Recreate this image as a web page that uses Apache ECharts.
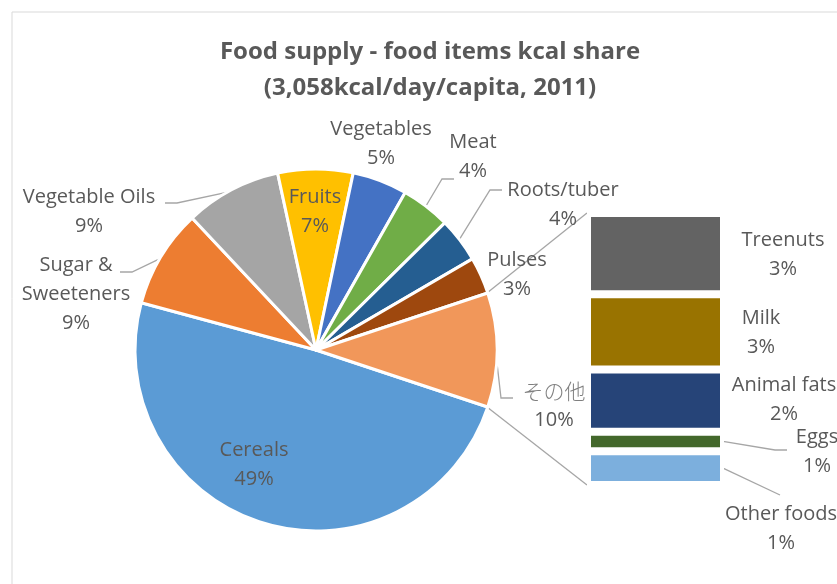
<!DOCTYPE html>
<html><head><meta charset="utf-8">
<script src="https://cdn.jsdelivr.net/npm/echarts@6/dist/echarts.min.js"></script>
<style>html,body{margin:0;padding:0;background:#fff}#c{width:837px;height:584px}</style>
</head><body><div id="c"></div>
<script>
// ---- data ----
const pieNames = ['Cereals', 'Sugar & Sweeteners', 'Vegetable Oils', 'Fruits', 'Vegetables', 'Meat', 'Roots/tuber', 'Pulses'];
const pieValues = [49.1, 8.8, 8.6, 6.7, 4.9, 4.4, 4.0, 3.3];
const otherName = 'その他';
const barNames = ['Treenuts', 'Milk', 'Animal fats', 'Eggs', 'Other foods'];
const barValues = [3.05, 2.82, 2.33, 0.73, 1.27];

// ---- styles / layout ----
const pieColors = ['#5B9BD5', '#ED7D31', '#A5A5A5', '#FFC000', '#4472C4', '#70AD47', '#255E91', '#9E480E', '#F1975A'];
const barColors = ['#636363', '#997300', '#264478', '#43682B', '#7CAFDD'];
const pieLabelPos = [[254, 465], [76, 294], [89, 212], [315, 212], [381, 144], [473, 157], [563, 205], [517, 275], [554, 406]];
// hook end offset from label centre [dx, dy, hook direction]
const pieHook = [null, [44, -22, 1], [76, -9, 1], null, null, [-19, 22, -1], [-61, -15, -1], null, [-41, -8, -1]];
const pieInside = [true, false, false, true, false, false, false, false, false];
const barLabelPos = [[783, 255], [761, 333], [784, 400], [817, 452], [781, 529]];
const barHook = [null, null, null, [-30, -2, -1], [-1, -34, 0]];
const FONT = '"Open Sans", Lato, "Noto Sans", sans-serif';
const TXT = '#595959';
const LINE = '#a6a6a6';
const LBL = 20;
const HOOK = 12;
const CX = 316, CY = 350, R = 181;
const GRID = { left: 587, top: 213, width: 137, height: 272 };

const otherValue = barValues.reduce((a, b) => a + b, 0);
const allPie = pieValues.concat([otherValue]);
const total = allPie.reduce((a, b) => a + b, 0);
const pct = v => Math.round(v / total * 100) + '%';
const halfAngle = otherValue / total * 180; // degrees

// mid-angle arc points for leader lines
const cum = [];
allPie.reduce((s, v, i) => { cum[i] = s; return s + v; }, 0);
function arcPoint(i) {
  const frac = (cum[i] + allPie[i] / 2) / total;
  const th = (-halfAngle - frac * 360) * Math.PI / 180;
  const r = R - 1.5;
  return [CX + r * Math.cos(th), CY - r * Math.sin(th)];
}

const pieData = pieNames.map((n, i) => ({ name: n, value: pieValues[i] }));
pieData.push({ name: otherName, value: otherValue });
pieData.forEach((d, i) => {
  d.itemStyle = { color: pieColors[i] };
  d.label = { position: pieInside[i] ? 'inside' : 'outside' };
  d.labelLine = { show: !!pieHook[i] };
});

// stacked bar: bottom first
const barSeries = [];
for (let i = barNames.length - 1; i >= 0; i--) {
  const idx = i;
  barSeries.push({
    type: 'bar', name: barNames[i], stack: 'other', xAxisIndex: 0, yAxisIndex: 0,
    barWidth: '100%', data: [barValues[i]],
    itemStyle: { color: barColors[i], borderColor: '#fff', borderWidth: 4 },
    label: {
      show: true, position: 'right', color: TXT, fontFamily: FONT, fontSize: LBL, lineHeight: 29, align: 'center',
      formatter: () => barNames[idx] + '\n' + pct(barValues[idx])
    },
    labelLayout: () => ({ x: barLabelPos[idx][0], y: barLabelPos[idx][1], align: 'center', verticalAlign: 'middle' }),
    emphasis: { disabled: true }, animation: false
  });
}

const rIn = R - 1.5;
const a = halfAngle * Math.PI / 180;
const pTop = [CX + rIn * Math.cos(a), CY - rIn * Math.sin(a)];
const pBot = [CX + rIn * Math.cos(a), CY + rIn * Math.sin(a)];

const chart = echarts.init(document.getElementById('c'));
chart.setOption({
  animation: false,
  backgroundColor: '#fff',
  title: {
    text: 'Food supply - food items kcal share\n(3,058kcal/day/capita, 2011)',
    left: 430, top: 34, textAlign: 'center', padding: 0,
    textStyle: { fontFamily: FONT, fontSize: 24, fontWeight: 'bold', color: TXT, lineHeight: 36 }
  },
  grid: { left: GRID.left, top: GRID.top, width: GRID.width, height: GRID.height, containLabel: false },
  xAxis: { type: 'category', data: ['x'], show: false },
  yAxis: { type: 'value', min: 0, max: otherValue, show: false },
  graphic: [
    { id: 'frame', type: 'rect', shape: { x: 12, y: 12, width: 1000, height: 800 }, style: { fill: 'none', stroke: '#d9d9d9', lineWidth: 1 }, silent: true, z: -1 },
    { id: 'cTop', type: 'line', shape: { x1: pTop[0], y1: pTop[1], x2: GRID.left, y2: GRID.top }, style: { stroke: LINE, lineWidth: 1.3 }, silent: true },
    { id: 'cBot', type: 'line', shape: { x1: pBot[0], y1: pBot[1], x2: GRID.left, y2: GRID.top + GRID.height }, style: { stroke: LINE, lineWidth: 1.3 }, silent: true }
  ],
  series: [{
    type: 'pie', center: [CX, CY], radius: R, startAngle: -halfAngle, clockwise: true,
    avoidLabelOverlap: false, minShowLabelAngle: 0,
    data: pieData,
    itemStyle: { borderColor: '#fff', borderWidth: 3 },
    label: {
      show: true, color: TXT, fontFamily: FONT, fontSize: LBL, lineHeight: 29, align: 'center',
      formatter: p => {
        let n = p.name;
        if (n === 'Sugar & Sweeteners') n = 'Sugar &\nSweeteners';
        if (p.name === otherName) return '{jp|' + n + '}\n' + pct(p.value);
        return n + '\n' + pct(p.value);
      },
      rich: { jp: { fontFamily: '"Noto Sans CJK JP"', fontSize: 21, color: '#7f7f7f', lineHeight: 29, fontWeight: 300 } }
    },
    labelLine: { length: 10, length2: 12, lineStyle: { color: LINE, width: 1.3 } },
    labelLayout: p => {
      const i = p.dataIndex;
      const pos = pieLabelPos[i];
      const o = { x: pos[0], y: pos[1], align: 'center', verticalAlign: 'middle' };
      const h = pieHook[i];
      if (h) {
        const end = [pos[0] + h[0], pos[1] + h[1]];
        o.labelLinePoints = [arcPoint(i), [end[0] + h[2] * HOOK, end[1]], end];
      }
      return o;
    },
    emphasis: { disabled: true }
  }].concat(barSeries)
});

// leader lines for the small bar segments, from the segment's right edge (via the axis scale)
const extra = [];
let base = 0;
for (let i = barNames.length - 1; i >= 0; i--) {
  const mid = base + barValues[i] / 2;
  base += barValues[i];
  const h = barHook[i];
  if (!h) continue;
  const pt = chart.convertToPixel({ gridIndex: 0 }, [0, mid]);
  const xr = GRID.left + GRID.width - 1;
  const pos = barLabelPos[i];
  const end = [pos[0] + h[0], pos[1] + h[1]];
  extra.push({
    id: 'bl' + i, type: 'polyline', silent: true,
    shape: { points: [[xr, pt[1]], [end[0] + h[2] * HOOK, end[1]], end] },
    style: { stroke: LINE, lineWidth: 1.3, fill: null }
  });
}
chart.setOption({ graphic: extra });
</script></body></html>
